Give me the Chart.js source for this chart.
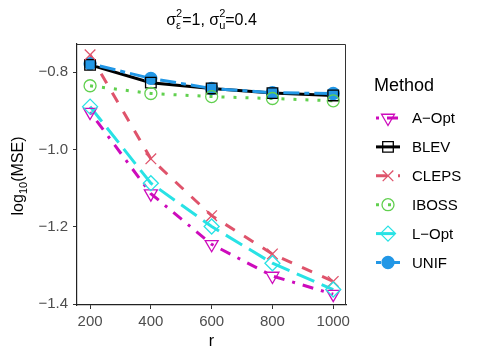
<!DOCTYPE html>
<html>
<head>
<meta charset="utf-8">
<script src="https://cdn.jsdelivr.net/npm/chart.js@4/dist/chart.umd.min.js"></script>
<style>
  body { margin: 0; background: #fff; }
  #wrap { width: 480px; height: 360px; }
</style>
</head>
<body>
<div id="wrap"><canvas id="chart" width="480" height="360"></canvas></div>
<script>
// values
var rValues = [200, 400, 600, 800, 1000];
var xTicks = [200, 400, 600, 800, 1000];
var yTicks = [-1.4, -1.2, -1.0, -0.8];
var methods = ['A\u2212Opt', 'BLEV', 'CLEPS', 'IBOSS', 'L\u2212Opt', 'UNIF'];

var aOpt  = [-0.903, -1.114, -1.245, -1.327, -1.374];
var blev  = [-0.781, -0.827, -0.842, -0.854, -0.860];
var cleps = [-0.755, -1.024, -1.171, -1.270, -1.341];
var iboss = [-0.835, -0.855, -0.863, -0.868, -0.874];
var lOpt  = [-0.889, -1.087, -1.199, -1.294, -1.362];
var unif  = [-0.778, -0.816, -0.842, -0.853, -0.855];

var series = [aOpt, blev, cleps, iboss, lOpt, unif];

// styles, one per method
var colors = ['#CD0BBC', '#000000', '#DF536B', '#61D04F', '#28E2E5', '#2297E6'];
var dashes = [[3, 8, 11, 8], [], [11, 11], [3, 9], [19, 8], [5, 5, 16, 5]];
var shapes = ['triangle', 'rect', 'crossRot', 'circle', 'rectRot', 'circle'];
var rotations = [180, 0, 0, 0, 0, 0];
var radii = [7.5, 7.5, 7.5, 6, 7.5, 6];
var filled = [false, false, false, false, false, true];
// points go on after all lines; UNIF under the BLEV squares
var pointOrder = [5, 0, 1, 2, 3, 4];

var FONT = '"Liberation Sans", Arial, Helvetica, sans-serif';

function points(i) {
    var pts = [];
    for (var j = 0; j < rValues.length; j++) {
        pts.push({x: rValues[j], y: series[i][j]});
    }
    return pts;
}

var datasets = [];
var k;
// line layer
for (var i = 0; i < methods.length; i++) {
    datasets.push({
        label: methods[i],
        data: points(i),
        borderColor: colors[i],
        borderWidth: 3,
        borderDash: dashes[i],
        borderCapStyle: 'butt',
        pointRadius: 0,
        fill: false,
        tension: 0,
        order: 100 - i
    });
}
// point layer
for (k = 0; k < pointOrder.length; k++) {
    var m = pointOrder[k];
    datasets.push({
        label: methods[m] + ' points',
        data: points(m),
        showLine: false,
        pointStyle: shapes[m],
        pointRotation: rotations[m],
        pointRadius: radii[m],
        pointBorderWidth: 1.3,
        pointBorderColor: colors[m],
        pointBackgroundColor: filled[m] ? colors[m] : 'rgba(0,0,0,0)',
        order: 50 - k
    });
}

function minus(v) {
    return v.toFixed(1).replace('-', '\u2212');
}

// text with a stacked super/subscript after a base glyph
function drawPieces(ctx, pieces, x, y, measureOnly) {
    var cx = x;
    pieces.forEach(function(p) {
        ctx.font = p.size + 'px ' + FONT;
        if (p.stack) {
            var w = Math.max(ctx.measureText(p.sup).width, ctx.measureText(p.sub).width);
            if (!measureOnly) {
                ctx.fillText(p.sup, cx, y - p.up);
                ctx.fillText(p.sub, cx, y + p.down);
            }
            cx += w;
        } else {
            if (!measureOnly) ctx.fillText(p.text, cx, y + (p.dy || 0));
            cx += ctx.measureText(p.text).width;
        }
    });
    return cx - x;
}

var decorations = {
    id: 'decorations',
    afterDraw: function(chart) {
        var ctx = chart.ctx;
        var area = chart.chartArea;
        ctx.save();

        // panel border on top and right
        ctx.strokeStyle = '#333333';
        ctx.lineWidth = 1;
        ctx.beginPath();
        ctx.moveTo(area.left, area.top + 0.5);
        ctx.lineTo(area.right - 0.5, area.top + 0.5);
        ctx.lineTo(area.right - 0.5, area.bottom);
        ctx.stroke();

        ctx.fillStyle = '#000';
        ctx.textAlign = 'left';
        ctx.textBaseline = 'alphabetic';

        // plot title
        var titlePieces = [
            {text: '\u03C3', size: 16},
            {stack: true, sup: '2', sub: '\u03B5', size: 11, up: 8, down: 4},
            {text: '=1, \u03C3', size: 16},
            {stack: true, sup: '2', sub: 'u', size: 11, up: 8, down: 4},
            {text: '=0.4', size: 16}
        ];
        var tw = drawPieces(ctx, titlePieces, 0, 0, true);
        drawPieces(ctx, titlePieces, (area.left + area.right) / 2 - tw / 2, 25, false);

        // x axis title
        ctx.font = '16px ' + FONT;
        ctx.textAlign = 'center';
        ctx.fillText('r', (area.left + area.right) / 2, 346);

        // y axis title
        ctx.save();
        ctx.translate(23, 176);
        ctx.rotate(-Math.PI / 2);
        ctx.textAlign = 'left';
        var yPieces = [
            {text: 'log', size: 16},
            {text: '10', size: 11, dy: 4},
            {text: '(MSE)', size: 16}
        ];
        var yw = drawPieces(ctx, yPieces, 0, 0, true);
        drawPieces(ctx, yPieces, -yw / 2, 0, false);
        ctx.restore();

        // legend
        ctx.textAlign = 'left';
        ctx.textBaseline = 'middle';
        ctx.font = '18px ' + FONT;
        ctx.fillStyle = '#000';
        ctx.fillText('Method', 374, 86);
        var rowY = 118;
        for (var i = 0; i < methods.length; i++) {
            ctx.setLineDash(dashes[i]);
            ctx.lineCap = 'butt';
            ctx.strokeStyle = colors[i];
            ctx.lineWidth = 3;
            ctx.beginPath();
            ctx.moveTo(376, rowY);
            ctx.lineTo(400, rowY);
            ctx.stroke();
            ctx.setLineDash([]);
            ctx.lineWidth = 1.3;
            ctx.fillStyle = filled[i] ? colors[i] : 'rgba(0,0,0,0)';
            Chart.helpers.drawPoint(ctx, {
                pointStyle: shapes[i],
                rotation: rotations[i],
                radius: radii[i],
                borderWidth: 1.3
            }, 388, rowY);
            ctx.fillStyle = '#000';
            ctx.font = '15px ' + FONT;
            ctx.fillText(methods[i], 412, rowY + 1);
            rowY += 28.9;
        }

        ctx.restore();
    }
};

var ctx = document.getElementById('chart').getContext('2d');
var chart = new Chart(ctx, {
    type: 'line',
    data: { datasets: datasets },
    options: {
        responsive: false,
        animation: false,
        layout: { padding: { left: 0, top: 44, right: 134, bottom: 0 } },
        plugins: {
            legend: { display: false },
            tooltip: { enabled: false },
            title: { display: false }
        },
        scales: {
            x: {
                type: 'linear',
                min: 157,
                max: 1042,
                afterFit: function(scale) { scale.height = 55; },
                afterBuildTicks: function(scale) {
                    scale.ticks = xTicks.map(function(v) { return {value: v}; });
                },
                grid: { drawOnChartArea: false, drawTicks: true, tickLength: 4, color: '#333333' },
                border: { display: true, color: '#222222', width: 1.2 },
                ticks: {
                    color: '#4D4D4D',
                    font: { family: FONT, size: 15 },
                    padding: 4,
                    maxRotation: 0,
                    autoSkip: false,
                    callback: function(v) { return String(v); }
                }
            },
            y: {
                type: 'linear',
                min: -1.402,
                max: -0.727,
                afterFit: function(scale) { scale.width = 77; },
                afterBuildTicks: function(scale) {
                    scale.ticks = yTicks.map(function(v) { return {value: v}; });
                },
                grid: { drawOnChartArea: false, drawTicks: true, tickLength: 4, color: '#333333' },
                border: { display: true, color: '#222222', width: 1.2 },
                ticks: {
                    color: '#4D4D4D',
                    font: { family: FONT, size: 15 },
                    padding: 5,
                    autoSkip: false,
                    callback: function(v) { return minus(v); }
                }
            }
        }
    },
    plugins: [decorations]
});
</script>
</body>
</html>
